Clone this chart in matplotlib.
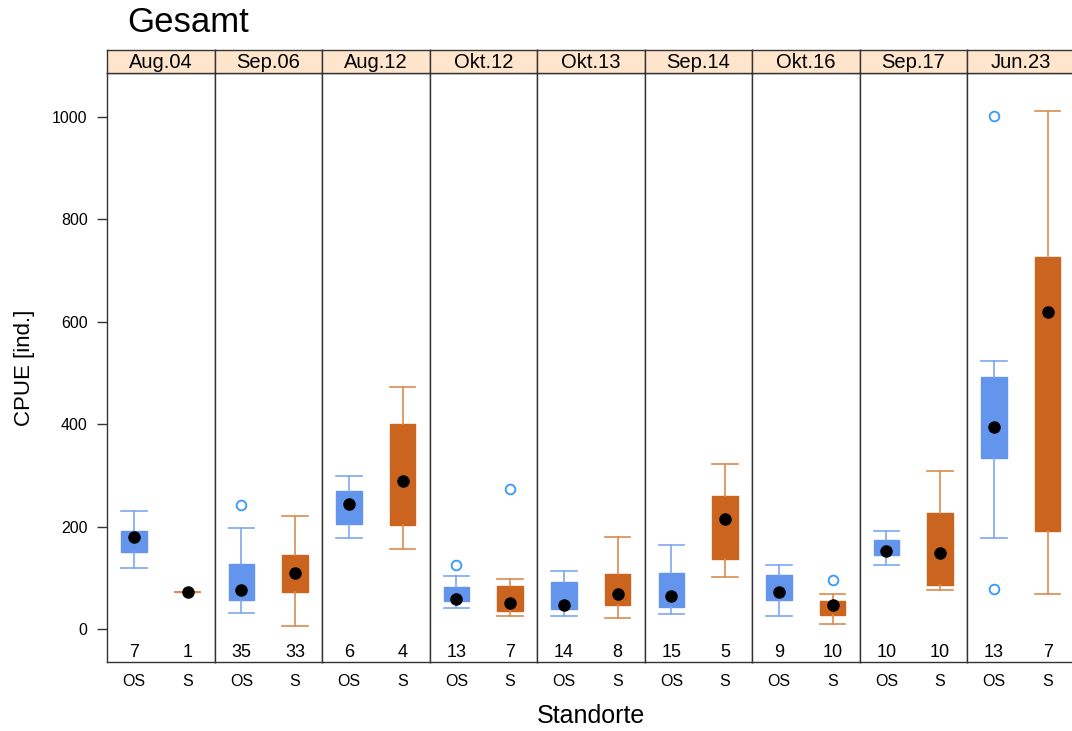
import matplotlib.pyplot as plt
import numpy as np

plt.rcParams['font.family'] = ['Liberation Sans', 'DejaVu Sans']

# Sampling dates (one panel each) and the two site groups
dates = ["Aug.04", "Sep.06", "Aug.12", "Okt.12", "Okt.13", "Sep.14", "Okt.16", "Sep.17", "Jun.23"]
groups = ["OS", "S"]

# Five-number summaries per date: [whislo, q1, med, q3, whishi]
os_stats = [
    [119, 150, 181, 191, 230],
    [31, 58, 77, 128, 198],
    [179, 206, 244, 270, 300],
    [41, 55, 59, 82, 103],
    [25, 40, 47, 93, 114],
    [30, 44, 64, 109, 165],
    [25, 58, 72, 105, 126],
    [126, 144, 152, 174, 192],
    [179, 335, 395, 492, 523],
]
s_stats = [
    [72, 72, 72, 72, 72],
    [6, 72, 109, 144, 221],
    [157, 203, 290, 401, 473],
    [26, 35, 51, 85, 99],
    [22, 47, 69, 107, 181],
    [102, 137, 216, 261, 323],
    [11, 27, 48, 55, 68],
    [77, 87, 149, 226, 309],
    [69, 191, 619, 726, 1012],
]
os_outliers = [[], [242], [], [126], [], [], [], [], [1003, 78]]
s_outliers = [[], [], [], [273], [], [], [96], [], []]
os_n = [7, 35, 6, 13, 14, 15, 9, 10, 13]
s_n = [1, 33, 4, 7, 8, 5, 10, 10, 7]

box_fill = ["#6495ED", "#CB641F"]
whisk_col = ["#7EA7F0", "#DA8A52"]
out_col = "#3399FF"

W, H = 1072, 731
fig = plt.figure(figsize=(W / 100, H / 100), dpi=100)

left, panel_w = 107, 107.5
top, bottom, strip_top = 73, 662, 50

for i, date in enumerate(dates):
    x0 = left + i * panel_w
    ax = fig.add_axes([x0 / W, 1 - bottom / H, panel_w / W, (bottom - top) / H])
    strip = fig.add_axes([x0 / W, 1 - top / H, panel_w / W, (top - strip_top) / H])
    strip.set_facecolor("#FFE5CC")
    strip.set_xticks([])
    strip.set_yticks([])
    strip.text(0.5, 0.45, date, ha="center", va="center", fontsize=14.5,
               transform=strip.transAxes)
    for sp in strip.spines.values():
        sp.set_color("#333333")
        sp.set_linewidth(1)

    per_group = [(os_stats[i], os_outliers[i], os_n[i]), (s_stats[i], s_outliers[i], s_n[i])]
    for g, (st, fl, n) in enumerate(per_group):
        stats = [dict(whislo=st[0], q1=st[1], med=st[2], q3=st[3], whishi=st[4], fliers=[])]
        # a collapsed box (single value) shows up as a whisker-coloured line
        edge = whisk_col[g] if st[1] == st[3] else box_fill[g]
        ax.bxp(stats, positions=[g + 1], widths=0.47, capwidths=0.47, patch_artist=True,
               showfliers=False,
               boxprops=dict(facecolor=box_fill[g], edgecolor=edge, linewidth=1),
               whiskerprops=dict(color=whisk_col[g], linewidth=1.2),
               capprops=dict(color=whisk_col[g], linewidth=1.2),
               medianprops=dict(linewidth=0))
        ax.plot([g + 1], [st[2]], "o", color="black", markersize=8, zorder=5)
        if fl:
            ax.plot([g + 1] * len(fl), fl, "o", mfc="none", mec=out_col,
                    markersize=7, markeredgewidth=1.3, zorder=5)
        ax.text(g + 1, -45, str(n), ha="center", va="center", fontsize=13)

    ax.set_xlim(0.5, 2.5)
    ax.set_ylim(-64, 1086)
    ax.set_xticks([1, 2])
    ax.set_xticklabels(groups, fontsize=11.5)
    ax.tick_params(axis="x", length=0, pad=9)
    for sp in ax.spines.values():
        sp.set_color("#333333")
        sp.set_linewidth(1)
    if i == 0:
        ax.set_yticks(np.arange(0, 1001, 200))
        ax.tick_params(axis="y", direction="out", length=7, width=1, color="#333333",
                       pad=7, labelsize=11.5)
        ax.set_ylabel("CPUE [ind.]", fontsize=16, labelpad=12)
    else:
        ax.set_yticks([])

fig.text(127 / W, 1 - 22 / H, "Gesamt", fontsize=25, ha="left", va="center")
fig.text(591 / W, 1 - 716 / H, "Standorte", fontsize=18, ha="center", va="center")

fig.savefig("out.png", dpi=100)
